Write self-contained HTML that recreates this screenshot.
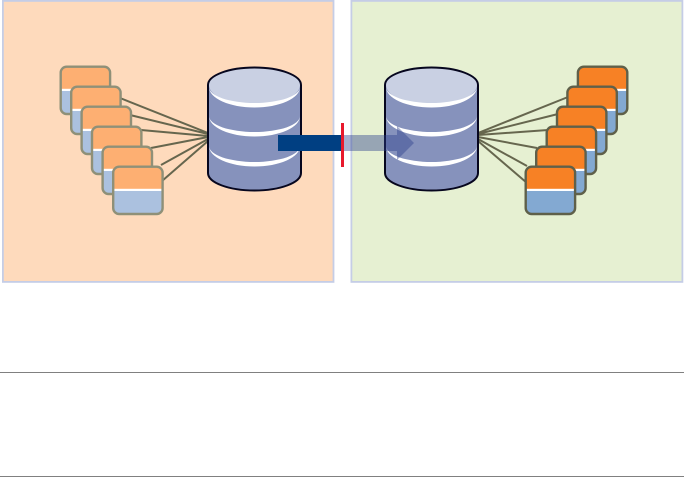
<!DOCTYPE html>
<html><head><meta charset="utf-8"><style>html,body{margin:0;padding:0;background:#fff}svg{display:block}</style></head>
<body>
<svg width="684" height="477" viewBox="0 0 684 477" xmlns="http://www.w3.org/2000/svg">
<defs>
<g id="db">
<path d="M0 85 A46.5 17.5 0 0 1 93 85 V173 A46.5 17.5 0 0 1 0 173 Z" fill="#8692bc"/>
<path d="M1 85 A45.5 17.5 0 0 1 92 85 A45.5 20 0 0 1 1 85 Z" fill="#c9d0e3"/>
<path d="M1 87 A45.5 20.5 0 0 0 92 87 A45.5 16 0 0 1 1 87 Z" fill="#fff"/>
<path d="M1 116 A45.5 20.5 0 0 0 92 116 A45.5 16 0 0 1 1 116 Z" fill="#fff"/>
<path d="M1 146 A45.5 20.5 0 0 0 92 146 A45.5 16 0 0 1 1 146 Z" fill="#fff"/>
<path d="M0 85 A46.5 17.5 0 0 1 93 85 V173 A46.5 17.5 0 0 1 0 173 Z" fill="none" stroke="#06061e" stroke-width="2"/>
</g>
<g id="cl">
<rect x="1.2" y="1.2" width="49.4" height="47.3" rx="6" fill="#abc1df"/>
<path d="M1.2 24 V7.2 a6 6 0 0 1 6-6 H44.6 a6 6 0 0 1 6 6 V24 Z" fill="#fdaf72"/>
<rect x="1.5" y="23.3" width="48.6" height="2.2" fill="#fff"/>
<rect x="1.2" y="1.2" width="49.4" height="47.3" rx="6" fill="none" stroke="#8f9078" stroke-width="2.4"/>
</g>
<g id="cr">
<rect x="1.2" y="1.2" width="49.4" height="47.3" rx="6" fill="#83a9d2"/>
<path d="M1.2 24 V7.2 a6 6 0 0 1 6-6 H44.6 a6 6 0 0 1 6 6 V24 Z" fill="#f78125"/>
<rect x="1.5" y="23.3" width="48.6" height="2.2" fill="#fff"/>
<rect x="1.2" y="1.2" width="49.4" height="47.3" rx="6" fill="none" stroke="#5f604a" stroke-width="2.4"/>
</g>
</defs>
<rect x="0" y="0" width="684" height="477" fill="#fff"/>
<rect x="2.9" y="0.9" width="330.6" height="281" fill="#fedabc" stroke="#c5cde6" stroke-width="1.8"/>
<rect x="351.4" y="0.9" width="331" height="281" fill="#e6f0d2" stroke="#c5cde6" stroke-width="1.8"/>
<rect x="0" y="372" width="684" height="1" fill="#808080"/>
<rect x="0" y="476" width="684" height="1" fill="#808080"/>

<g stroke="#66664e" stroke-width="2" fill="none">
<path d="M120 98 L208 133 M130 115 L208 134 M141 130 L208 136 M151 148 L208 137 M161 165 L208 139 M162 181 L208 141"/>
<path d="M568 97 L478 133 M558 114 L478 134 M548 130 L478 135 M537 148 L478 137 M527 166 L478 139 M527 183 L478 141"/>
</g>

<use href="#cl" x="59.5" y="65.5"/>
<use href="#cl" x="70" y="85.5"/>
<use href="#cl" x="80.4" y="105.5"/>
<use href="#cl" x="90.8" y="125.5"/>
<use href="#cl" x="101.4" y="145.5"/>
<use href="#cl" x="112" y="165.5"/>

<use href="#cr" x="576.7" y="65.5"/>
<use href="#cr" x="566.2" y="85.5"/>
<use href="#cr" x="555.8" y="105.5"/>
<use href="#cr" x="545.5" y="125.5"/>
<use href="#cr" x="535" y="145.5"/>
<use href="#cr" x="524.5" y="165.5"/>

<use href="#db" x="208" y="0"/>
<use href="#db" x="385" y="0"/>

<rect x="278" y="135" width="64" height="16" fill="#003f82"/>
<path d="M342 135 H397 V126 L414 143 L397 160 V151 H342 Z" fill="#2a3f8a" fill-opacity="0.42"/>
<rect x="341" y="123" width="3" height="44" fill="#e8192c"/>
</svg>
</body></html>
